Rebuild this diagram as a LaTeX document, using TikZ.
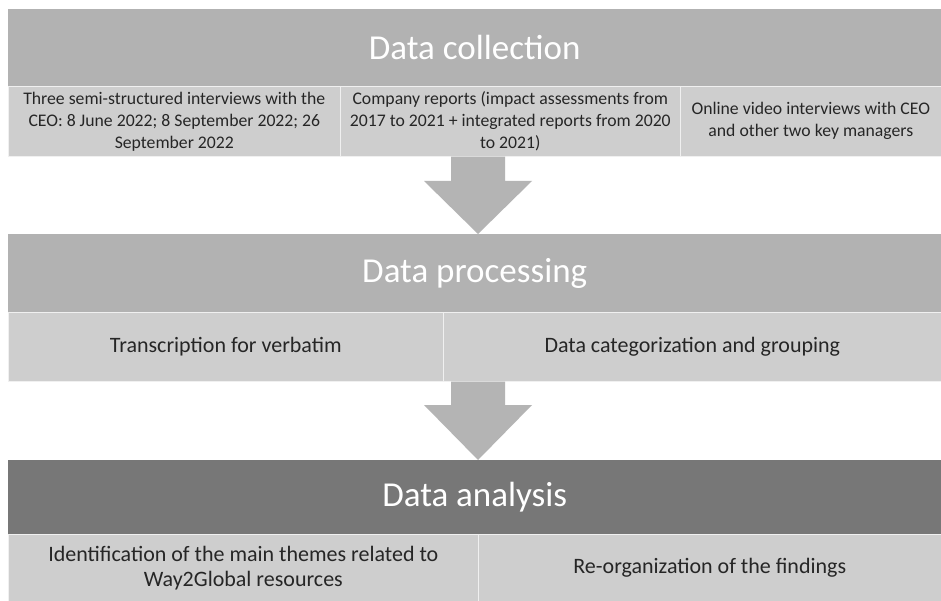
\documentclass[tikz,border=0pt]{standalone}
\usepackage{fontspec}
\setmainfont{Carlito}
\usetikzlibrary{calc}
\definecolor{headgray}{HTML}{B2B2B2}
\definecolor{headdark}{HTML}{777777}
\definecolor{subgray}{HTML}{CECECE}
\definecolor{arrowgray}{HTML}{B4B4B4}
\definecolor{subtext}{HTML}{262626}
\begin{document}
\begin{tikzpicture}[x=1pt,y=-1pt,
  header/.style={rectangle, anchor=north west, inner sep=0pt, fill=headgray,
    text=white, font=\fontsize{35}{40}\selectfont},
  subbox/.style={rectangle, anchor=north west, inner sep=0pt, fill=subgray,
    draw=white!70!subgray, line width=0.6pt, text=subtext, align=center},
  rowone/.style={font=\fontsize{17.7}{22}\selectfont},
  rowtwo/.style={font=\fontsize{22}{25}\selectfont},
  blockarrow/.style={fill=arrowgray}]
\useasboundingbox (0,0) rectangle (941,601);
\fill[white] (0,0) rectangle (941,601);

% Stage 1: data collection
\node[header, minimum width=933, minimum height=77] (dc) at (8,9) {Data collection};
\node[subbox, rowone, minimum width=332, minimum height=70] (c1) at (8,86)
  {Three semi-structured interviews with the\\CEO: 8 June 2022; 8 September 2022; 26\\September 2022};
\node[subbox, rowone, minimum width=340, minimum height=70] (c2) at (340,86)
  {Company reports (impact assessments from\\2017 to 2021 + integrated reports from 2020\\to 2021)};
\node[subbox, rowone, minimum width=261, minimum height=70] (c3) at (680,86)
  {Online video interviews with CEO\\and other two key managers};

% Stage 2: data processing
\node[header, minimum width=933, minimum height=78] (dp) at (8,234) {Data processing};
\node[subbox, rowtwo, minimum width=435, minimum height=69] (p1) at (8,312)
  {Transcription for verbatim};
\node[subbox, rowtwo, minimum width=498, minimum height=69] (p2) at (443,312)
  {Data categorization and grouping};

% Stage 3: data analysis
\node[header, fill=headdark, minimum width=933, minimum height=74] (da) at (8,460) {Data analysis};
\node[subbox, rowtwo, minimum width=470, minimum height=67] (a1) at (8,534)
  {Identification of the main themes related to\\Way2Global resources};
\node[subbox, rowtwo, minimum width=463, minimum height=67] (a2) at (478,534)
  {Re-organization of the findings};

% Block arrows between the stages
\coordinate (s1) at (c2.south -| 478,0);
\coordinate (e1) at (dp.north -| 478,0);
\fill[blockarrow] ($(s1)+(-27,0)$) -- ($(s1)+(27,0)$) -- ($(e1)+(27,-53)$)
  -- ($(e1)+(54,-53)$) -- (e1) -- ($(e1)+(-54,-53)$) -- ($(e1)+(-27,-53)$) -- cycle;
\coordinate (s2) at (p1.south -| 478,0);
\coordinate (e2) at (da.north -| 478,0);
\fill[blockarrow] ($(s2)+(-27,0)$) -- ($(s2)+(27,0)$) -- ($(e2)+(27,-55)$)
  -- ($(e2)+(54,-55)$) -- (e2) -- ($(e2)+(-54,-55)$) -- ($(e2)+(-27,-55)$) -- cycle;
\end{tikzpicture}
\end{document}
